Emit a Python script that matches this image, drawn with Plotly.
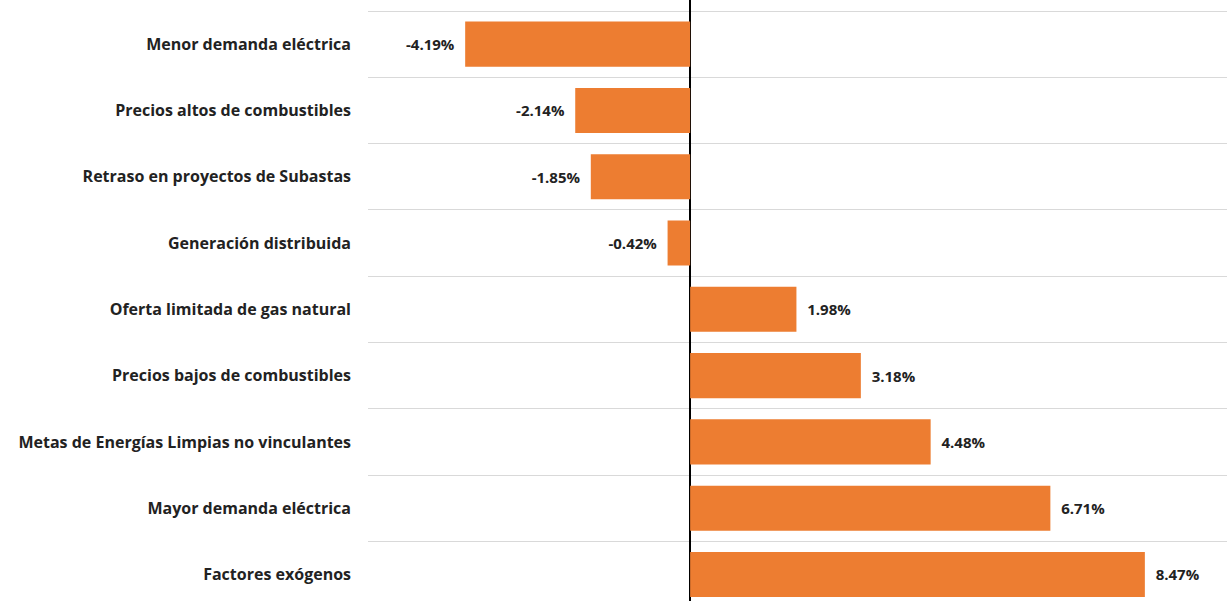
import plotly.graph_objects as go

# Factores y su impacto (%)
categorias = [
    "Menor demanda eléctrica",
    "Precios altos de combustibles",
    "Retraso en proyectos de Subastas",
    "Generación distribuida",
    "Oferta limitada de gas natural",
    "Precios bajos de combustibles",
    "Metas de Energías Limpias no vinculantes",
    "Mayor demanda eléctrica",
    "Factores exógenos",
]
valores = [-4.19, -2.14, -1.85, -0.42, 1.98, 3.18, 4.48, 6.71, 8.47]

# little gap between bar end and its label
pad = "\u00a0\u00a0"
etiquetas = [f"{v:.2f}%{pad}" if v < 0 else f"{pad}{v:.2f}%" for v in valores]

fig = go.Figure()
fig.add_trace(go.Bar(
    x=valores,
    y=categorias,
    orientation="h",
    width=0.68,
    marker=dict(color="#ED7D31", line=dict(width=0)),
    text=etiquetas,
    textposition="outside",
    textfont=dict(family="Open Sans", size=15, color="#222222", weight="bold"),
    cliponaxis=False,
))

fig.update_layout(
    width=1227,
    height=601,
    margin=dict(l=368, r=0, t=0, b=0),
    plot_bgcolor="white",
    paper_bgcolor="white",
    showlegend=False,
    font=dict(family="Open Sans", color="#222222"),
    uniformtext=dict(minsize=15, mode="show"),
)
fig.update_xaxes(
    range=[-6, 10],
    showgrid=False,
    showticklabels=False,
    zeroline=True,
    zerolinecolor="black",
    zerolinewidth=2,
)
fig.update_yaxes(
    type="category",
    range=[8.4, -0.666],
    tickson="boundaries",
    showgrid=True,
    gridcolor="#d9d9d9",
    gridwidth=1,
    ticks="",
    ticklabelstandoff=16,
    tickfont=dict(family="Open Sans", size=16, color="#222222", weight="bold"),
)

fig.write_html(
    "out.html",
    config={"displayModeBar": False},
    post_script="document.body.style.margin='0';",
)
